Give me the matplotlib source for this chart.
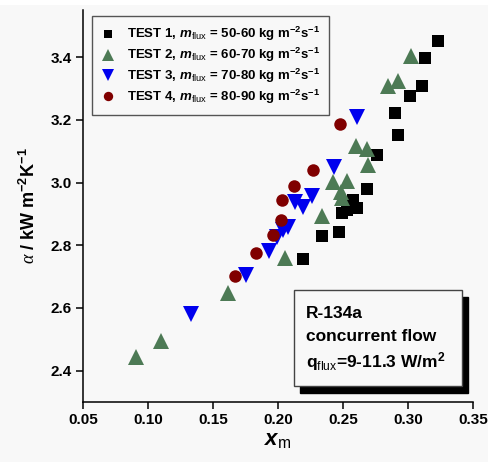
"""
Heat transfer coefficient vs mean vapour quality, R-134a concurrent flow.
"""
import matplotlib
matplotlib.use("Agg")
import matplotlib.pyplot as plt
from matplotlib.patches import Rectangle
from matplotlib.ticker import FormatStrFormatter

plt.rcParams['font.family'] = ['Liberation Sans', 'DejaVu Sans']
plt.rcParams['mathtext.fontset'] = 'custom'
plt.rcParams['mathtext.rm'] = 'Liberation Sans:bold'
plt.rcParams['mathtext.it'] = 'Liberation Sans:italic:bold'
plt.rcParams['mathtext.bf'] = 'Liberation Sans:bold'
plt.rcParams['mathtext.sf'] = 'Liberation Sans'
plt.rcParams['mathtext.cal'] = 'Liberation Serif:italic'

# TEST 1, m_flux = 50-60
x_test1 = [0.3231, 0.3133, 0.3110, 0.3015, 0.2903, 0.2921, 0.2764, 0.2687,
           0.2579, 0.2610, 0.2533, 0.2490, 0.2469, 0.2341, 0.2195]
a_test1 = [3.452, 3.396, 3.308, 3.275, 3.222, 3.152, 3.087, 2.980,
           2.943, 2.920, 2.913, 2.903, 2.842, 2.828, 2.757]

# TEST 2, m_flux = 60-70
x_test2 = [0.3023, 0.2926, 0.2849, 0.2600, 0.2687, 0.2690, 0.2426, 0.2533,
           0.2485, 0.2490, 0.2341, 0.2054, 0.1613, 0.1100, 0.0905]
a_test2 = [3.404, 3.323, 3.308, 3.116, 3.106, 3.055, 3.002, 3.005,
           2.970, 2.951, 2.892, 2.759, 2.647, 2.494, 2.443]

# TEST 3, m_flux = 70-80
x_test3 = [0.2608, 0.2431, 0.2259, 0.2131, 0.2195, 0.2079, 0.2040, 0.1990,
           0.1933, 0.1754, 0.1331]
a_test3 = [3.209, 3.050, 2.958, 2.938, 2.922, 2.858, 2.847, 2.826,
           2.780, 2.706, 2.581]

# TEST 4, m_flux = 80-90
x_test4 = [0.2477, 0.2272, 0.2125, 0.2033, 0.2020, 0.1966, 0.1828, 0.1672]
a_test4 = [3.186, 3.041, 2.990, 2.943, 2.879, 2.833, 2.776, 2.701]

labels = [
    r'TEST 1, $m_{\mathsf{flux}}$ = 50-60 kg m$^{-2}$s$^{-1}$',
    r'TEST 2, $m_{\mathsf{flux}}$ = 60-70 kg m$^{-2}$s$^{-1}$',
    r'TEST 3, $m_{\mathsf{flux}}$ = 70-80 kg m$^{-2}$s$^{-1}$',
    r'TEST 4, $m_{\mathsf{flux}}$ = 80-90 kg m$^{-2}$s$^{-1}$',
]
xticks = [0.05, 0.10, 0.15, 0.20, 0.25, 0.30, 0.35]
yticks = [2.4, 2.6, 2.8, 3.0, 3.2, 3.4]

bg = '#f8f8f8'
fig = plt.figure(figsize=(4.88, 4.62), dpi=100, facecolor=bg)
# thin white strip along the top edge, as in the original export
fig.patches.append(Rectangle((0, 1 - 5 / 462), 1, 5 / 462,
                             transform=fig.transFigure, facecolor='white',
                             edgecolor='none', zorder=0))
ax = fig.add_axes([0.170, 0.130, 0.799, 0.848])
ax.set_facecolor(bg)

ax.plot(x_test1, a_test1, 's', color='black', ms=8, mew=0, label=labels[0])
ax.plot(x_test2, a_test2, '^', color='#4d7a55', ms=11, mew=0, label=labels[1])
ax.plot(x_test3, a_test3, 'v', color='#0000ee', ms=11, mew=0, label=labels[2])
ax.plot(x_test4, a_test4, 'o', color='#800000', ms=9, mew=0, label=labels[3])

ax.set_xlim(0.05, 0.35)
ax.set_ylim(2.30, 3.55)
ax.set_xticks(xticks)
ax.set_yticks(yticks)
ax.xaxis.set_major_formatter(FormatStrFormatter('%.2f'))
ax.yaxis.set_major_formatter(FormatStrFormatter('%.1f'))
for side in ['top', 'right']:
    ax.spines[side].set_visible(False)
for side in ['left', 'bottom']:
    ax.spines[side].set_linewidth(1.1)
ax.tick_params(direction='out', length=5, width=1.1, labelsize=11, pad=3)
for lbl in ax.get_xticklabels() + ax.get_yticklabels():
    lbl.set_fontweight('bold')

ax.set_xlabel(r'$x_{\mathsf{m}}$', fontsize=16, labelpad=2)
ax.set_ylabel(r'$\mathcal{\alpha}$ / kW m$^{-2}$K$^{-1}$', fontsize=13,
              fontweight='bold', labelpad=8)

leg = ax.legend(loc='upper left', bbox_to_anchor=(92 / 488, 1 - 16 / 462),
                bbox_transform=fig.transFigure, borderaxespad=0,
                prop={'weight': 'bold', 'size': 9.5}, markerscale=0.75,
                handlelength=1.0, handletextpad=0.95, borderpad=0.7,
                labelspacing=0.2, fancybox=False, framealpha=1,
                facecolor=bg, edgecolor='#555555')
leg.get_frame().set_linewidth(1.0)

# condition box with drop shadow
fig.patches.append(Rectangle((0.6148, 0.1494), 0.3442, 0.2076,
                             transform=fig.transFigure, facecolor='black',
                             edgecolor='black', zorder=5))
fig.patches.append(Rectangle((0.6025, 0.1645), 0.3442, 0.2078,
                             transform=fig.transFigure, facecolor=bg,
                             edgecolor='#444444', linewidth=1.0, zorder=6))
box_lines = ['R-134a', 'concurrent flow', r'q$_{\mathsf{flux}}$=9-11.3 W/m$^{2}$']
box_baselines = [318, 341, 367]
for line, base in zip(box_lines, box_baselines):
    fig.text(0.627, 1 - base / 462, line, fontsize=12.5,
             fontweight='bold', va='baseline', ha='left', zorder=7)

fig.savefig('out.png', dpi=100, facecolor=bg)
